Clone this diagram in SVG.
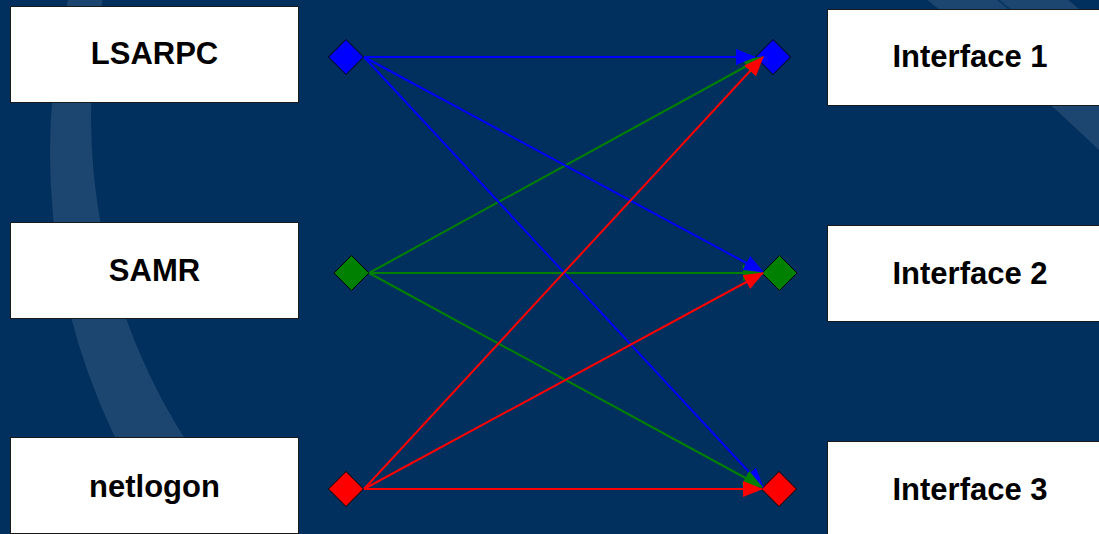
<svg xmlns="http://www.w3.org/2000/svg" width="1099" height="534" viewBox="0 0 1099 534">
  <style>
    .box { fill: #ffffff; stroke: #1a1a1a; stroke-width: 1; }
    .lbl { font-family: "Liberation Sans", Arial, sans-serif; font-weight: bold; font-size: 31px; fill: #000000; text-anchor: middle; }
    .dia { stroke: #000000; stroke-width: 1; }
    .band { fill: #ffffff; fill-opacity: 0.11; }
    .ln { fill: none; stroke-width: 2; }
    .blue { stroke: #0000ff; }
    .green { stroke: #008000; }
    .red { stroke: #ff0000; }
  </style>
  <defs>
    <marker id="ahBlue" markerUnits="userSpaceOnUse" viewBox="0 0 20 16" markerWidth="20" markerHeight="16" refX="19" refY="8" orient="auto">
      <path d="M0,0 L20,8 L0,16 z" fill="#0000ff"/>
    </marker>
    <marker id="ahGreen" markerUnits="userSpaceOnUse" viewBox="0 0 20 16" markerWidth="20" markerHeight="16" refX="19" refY="8" orient="auto">
      <path d="M0,0 L20,8 L0,16 z" fill="#008000"/>
    </marker>
    <marker id="ahRed" markerUnits="userSpaceOnUse" viewBox="0 0 20 16" markerWidth="20" markerHeight="16" refX="19" refY="8" orient="auto">
      <path d="M0,0 L20,8 L0,16 z" fill="#ff0000"/>
    </marker>
  </defs>

  <g id="background">
    <rect x="0" y="0" width="1099" height="534" fill="#01305e"/>
    <path class="band" fill-rule="evenodd" d="M704,-501 A654,654 0 1 0 704,807 A654,654 0 1 0 704,-501 Z M689,-481 A598,598 0 1 1 689,715 A598,598 0 1 1 689,-481 Z"/>
    <path class="band" d="M925,-2 Q995,55 1053,107 Q1078,130 1101,152 L1101,28 Q1083,12 1066,-2 Z"/>
    <path d="M996,-2 L1130,110" stroke="#01305e" stroke-opacity="0.7" stroke-width="2" fill="none"/>
  </g>

  <g id="node-lsarpc">
    <rect class="box" x="10.5" y="6.5" width="288" height="96"/>
    <text class="lbl" x="154.5" y="64">LSARPC</text>
    <polygon class="dia" fill="#0000ff" points="346,39.5 363.5,57 346,74.5 328.5,57"/>
  </g>
  <g id="node-samr">
    <rect class="box" x="10.5" y="222.5" width="288" height="96"/>
    <text class="lbl" x="154.5" y="281">SAMR</text>
    <polygon class="dia" fill="#008000" points="351.5,255.5 369,273 351.5,290.5 334,273"/>
  </g>
  <g id="node-netlogon">
    <rect class="box" x="10.5" y="437.5" width="288" height="96"/>
    <text class="lbl" x="154.5" y="496.5">netlogon</text>
    <polygon class="dia" fill="#ff0000" points="346,471.5 363.5,489 346,506.5 328.5,489"/>
  </g>
  <g id="node-interface1">
    <rect class="box" x="827.5" y="9.5" width="288" height="96"/>
    <text class="lbl" x="970" y="67">Interface 1</text>
    <polygon class="dia" fill="#0000ff" points="773,39.5 790.5,57 773,74.5 755.5,57"/>
  </g>
  <g id="node-interface2">
    <rect class="box" x="827.5" y="225.5" width="288" height="96"/>
    <text class="lbl" x="970" y="283.5">Interface 2</text>
    <polygon class="dia" fill="#008000" points="779.5,255.5 797,273 779.5,290.5 762,273"/>
  </g>
  <g id="node-interface3">
    <rect class="box" x="827.5" y="441.5" width="288" height="96"/>
    <text class="lbl" x="970" y="499.5">Interface 3</text>
    <polygon class="dia" fill="#ff0000" points="779,471.5 796.5,489 779,506.5 761.5,489"/>
  </g>

  <g id="connectors">
    <line class="ln green" x1="369" y1="273" x2="763" y2="57" marker-end="url(#ahGreen)"/>
    <line class="ln green" x1="369" y1="273" x2="762" y2="273" marker-end="url(#ahGreen)"/>
    <line class="ln blue" x1="364" y1="57" x2="755" y2="57" marker-end="url(#ahBlue)"/>
    <line class="ln blue" x1="364" y1="57" x2="763" y2="272" marker-end="url(#ahBlue)"/>
    <line class="ln blue" x1="364" y1="57" x2="763" y2="487" marker-end="url(#ahBlue)"/>
    <line class="ln green" x1="369" y1="273" x2="762" y2="487" marker-end="url(#ahGreen)"/>
    <line class="ln red" x1="364" y1="489" x2="763" y2="57" marker-end="url(#ahRed)"/>
    <line class="ln red" x1="364" y1="489" x2="763" y2="273" marker-end="url(#ahRed)"/>
    <line class="ln red" x1="364" y1="489" x2="762" y2="489" marker-end="url(#ahRed)"/>
  </g>
</svg>
